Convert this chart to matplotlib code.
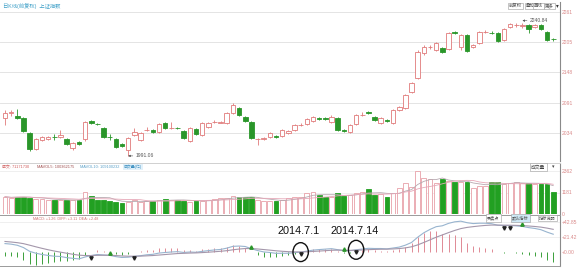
import numpy as np
import pandas as pd
import matplotlib
matplotlib.use("Agg")
import matplotlib.pyplot as plt
from matplotlib.patches import Rectangle, Ellipse

plt.rcParams['font.family'] = ['Liberation Sans', 'Noto Sans CJK SC', 'DejaVu Sans']

# ── DATA (上证指数 daily, spring-summer 2014) ──
opens = [2062.1, 2071.5, 2065.9, 2062.1, 2034.0, 2004.0, 2020.9, 2022.7, 2026.5, 2026.5,
         2022.7, 2005.9, 2017.1, 2022.7, 2056.5, 2050.9, 2043.4, 2026.5, 2022.7, 2013.4,
         2002.1, 2030.2, 2020.9, 2039.6, 2039.6, 2035.9, 2052.8, 2043.4, 2044.3, 2037.8,
         2019.0, 2041.5, 2030.2, 2045.3, 2054.6, 2053.7, 2052.8, 2071.5, 2080.9, 2064.0,
         2054.6, 2022.7, 2023.6, 2026.5, 2028.4, 2028.4, 2034.0, 2039.6, 2049.0, 2050.9,
         2056.5, 2062.1, 2062.1, 2054.6, 2062.1, 2039.6, 2035.9, 2050.9, 2067.8, 2072.5,
         2064.0, 2052.8, 2058.4, 2052.8, 2077.1, 2080.9, 2110.9, 2137.2, 2184.1, 2195.3,
         2189.7, 2193.5, 2191.6, 2223.5, 2195.3, 2217.8, 2195.3, 2202.8, 2223.5, 2222.5,
         2221.6, 2208.5, 2232.9, 2236.0, 2234.0, 2236.0, 2233.0, 2236.5, 2223.5, 2210.3]
highs = [2077.1, 2077.1, 2079.0, 2064.0, 2035.9, 2024.6, 2028.4, 2028.4, 2032.1, 2039.6,
         2024.6, 2017.1, 2019.0, 2056.5, 2058.4, 2052.8, 2045.3, 2032.1, 2024.6, 2015.2,
         2026.5, 2043.4, 2035.9, 2045.3, 2041.5, 2052.8, 2054.6, 2054.6, 2045.3, 2039.6,
         2045.3, 2043.4, 2054.6, 2054.6, 2058.4, 2056.5, 2073.4, 2090.3, 2082.8, 2065.9,
         2056.5, 2024.6, 2026.5, 2035.9, 2030.2, 2041.5, 2039.6, 2050.9, 2052.8, 2062.1,
         2065.9, 2064.0, 2064.0, 2067.8, 2064.0, 2041.5, 2050.9, 2069.6, 2073.4, 2075.3,
         2065.9, 2064.0, 2060.3, 2079.0, 2084.6, 2107.2, 2129.7, 2189.7, 2199.1, 2199.1,
         2204.7, 2195.3, 2223.5, 2225.4, 2219.7, 2219.7, 2201.0, 2225.4, 2227.3, 2225.4,
         2223.5, 2231.0, 2239.6, 2239.5, 2240.84, 2238.0, 2238.5, 2238.0, 2225.4, 2212.0]
lows = [2049.0, 2065.9, 2060.3, 2035.9, 2000.2, 2002.1, 2019.0, 2020.9, 2020.9, 2024.6,
        2011.5, 2002.1, 2011.5, 2019.0, 2050.9, 2049.0, 2024.6, 2020.9, 2005.9, 2007.7,
        1991.06, 2028.4, 2019.0, 2037.8, 2034.0, 2034.0, 2041.5, 2041.5, 2041.5, 2022.7,
        2017.1, 2030.2, 2028.4, 2043.4, 2052.8, 2052.8, 2050.9, 2069.6, 2065.9, 2054.6,
        2022.7, 2011.5, 2020.9, 2024.6, 2024.6, 2026.5, 2032.1, 2037.8, 2047.1, 2049.0,
        2054.6, 2058.4, 2059.3, 2052.8, 2037.8, 2035.9, 2034.0, 2049.0, 2065.9, 2069.6,
        2056.5, 2050.9, 2054.6, 2050.9, 2075.3, 2079.0, 2109.1, 2135.3, 2180.3, 2191.6,
        2187.8, 2184.1, 2189.7, 2219.7, 2189.7, 2186.0, 2193.5, 2201.0, 2221.6, 2219.7,
        2204.7, 2206.6, 2231.0, 2233.0, 2231.5, 2221.6, 2231.0, 2228.0, 2206.6, 2207.0]
closes = [2071.5, 2072.5, 2062.1, 2037.8, 2004.0, 2022.7, 2026.5, 2026.5, 2025.6, 2030.2,
          2013.4, 2015.2, 2013.4, 2054.6, 2052.8, 2050.0, 2026.5, 2025.6, 2007.7, 2009.6,
          2024.6, 2035.9, 2034.0, 2040.5, 2035.9, 2050.9, 2043.4, 2044.3, 2043.4, 2024.6,
          2043.4, 2032.1, 2052.8, 2052.8, 2055.5, 2054.6, 2071.5, 2086.5, 2067.8, 2056.5,
          2024.6, 2023.6, 2024.6, 2034.0, 2026.5, 2039.6, 2037.8, 2049.0, 2049.9, 2060.3,
          2064.0, 2060.3, 2061.2, 2064.0, 2039.6, 2037.8, 2049.0, 2067.8, 2068.7, 2071.5,
          2058.4, 2062.1, 2056.5, 2077.1, 2082.8, 2105.3, 2127.8, 2186.0, 2195.3, 2196.2,
          2202.8, 2186.0, 2221.6, 2221.6, 2217.8, 2187.8, 2199.1, 2223.5, 2224.4, 2221.6,
          2206.6, 2229.1, 2238.5, 2236.8, 2237.0, 2230.0, 2236.0, 2230.0, 2208.5, 2209.5]
volumes = [950, 878, 950, 950, 895, 824, 824, 769, 769, 769,
           769, 769, 769, 1208, 1005, 769, 769, 714, 659, 604,
           675, 769, 675, 714, 714, 769, 824, 769, 769, 730,
           675, 714, 741, 769, 824, 862, 895, 1005, 917, 917,
           950, 769, 714, 714, 714, 769, 895, 922, 950, 1136,
           1224, 1043, 950, 950, 1136, 1005, 1043, 1136, 1208, 1373,
           1043, 1098, 950, 1136, 1427, 1685, 1499, 2361, 1993, 1922,
           1685, 1922, 1812, 1773, 1740, 1773, 1427, 1554, 1554, 1773,
           1740, 1631, 1685, 1773, 1685, 1685, 1631, 1631, 1631, 1224]

price_ticks = [2034, 2091, 2148, 2205, 2261]
vol_ticks = [0, 1181, 2362]
macd_ticks = [0, 21.42, 42.85]
macd_tick_labels = ["+0.00", "+21.42", "+42.85"]

# MACD state at the left edge of the panel
DIFF_START, DEA_START = 12.0, 15.0

LOW_IDX, HIGH_IDX = 20, 84          # candles carrying the 1991.06 / 2240.84 marks
CIRCLE_IDX = [48, 57]               # 2014.7.1 and 2014.7.14
CIRCLE_TEXT = ["2014.7.1", "2014.7.14"]
SELL_IDX = [14, 21, 48, 57, 81, 82]
BUY_IDX = [17, 40, 55, 84]

RED = "#e07a7a"
GREEN = "#2a962a"
AXIS_TXT = "#d98a8a"

o = np.array(opens); h = np.array(highs); l = np.array(lows); c = np.array(closes)
v = np.array(volumes)
n = len(c)
idx = np.arange(n)
up = c >= o

# ── MACD (12, 26, 9) ────────────────────────────────────────
a12, a26, a9 = 2 / 13, 2 / 27, 2 / 10
ema12 = np.empty(n); ema26 = np.empty(n); dea = np.empty(n)
ema12[0] = c[0]; ema26[0] = c[0] - DIFF_START; dea[0] = DEA_START
for i in range(1, n):
    ema12[i] = ema12[i - 1] + a12 * (c[i] - ema12[i - 1])
    ema26[i] = ema26[i - 1] + a26 * (c[i] - ema26[i - 1])
diff = ema12 - ema26
for i in range(1, n):
    dea[i] = dea[i - 1] + a9 * (diff[i] - dea[i - 1])
macd = 2 * (diff - dea)

vol = pd.Series(v, dtype=float)
mavol5 = vol.rolling(5, min_periods=1).mean()
mavol10 = vol.rolling(10, min_periods=1).mean()

# ── FIGURE ─────────────────────────────────────────────────
W, H = 577, 270
fig = plt.figure(figsize=(W / 100, H / 100), dpi=100)
fig.patch.set_facecolor("white")

def box(x0, y0, x1, y1):
    return [x0 / W, 1 - y1 / H, (x1 - x0) / W, (y1 - y0) / H]

def ftext(x, y, s, **kw):
    kw.setdefault("va", "center")
    return fig.text(x / W, 1 - y / H, s, **kw)

ax_k = fig.add_axes(box(0, 2, 560, 161))
ax_v = fig.add_axes(box(0, 163, 560, 214))
ax_m = fig.add_axes(box(0, 215, 560, 266))

XLIM = (-0.81, 90.1)
for ax in (ax_k, ax_v, ax_m):
    ax.set_xlim(*XLIM)
    ax.set_facecolor("none")
    ax.set_xticks([])
    ax.yaxis.tick_right()
    ax.tick_params(axis="y", length=0, pad=1.5, labelsize=3.6, labelcolor=AXIS_TXT)
    for s in ("left", "top", "bottom"):
        ax.spines[s].set_visible(False)
    ax.spines["right"].set_color("#8a8a8a")
    ax.spines["right"].set_linewidth(0.8)

# ── candles ──
bw = 0.74
for i in idx:
    col = RED if up[i] else GREEN
    lo, hi = min(o[i], c[i]), max(o[i], c[i])
    ax_k.vlines(i, l[i], h[i], color=col, linewidth=0.6, zorder=2)
    hgt = max(hi - lo, 0.9)
    ax_k.add_patch(Rectangle((i - bw / 2, lo), bw, hgt,
                             facecolor="white" if up[i] else GREEN,
                             edgecolor=col, linewidth=0.6, zorder=3))

ax_k.set_ylim(1981.5, 2279.8)
ax_k.set_yticks(price_ticks)
ax_k.set_yticklabels([str(t) for t in price_ticks])
for t in price_ticks:
    ax_k.axhline(t, color="#e4e4e4", linewidth=0.7, zorder=0)

ax_k.annotate("1991.06", xy=(LOW_IDX, l[LOW_IDX]), xytext=(LOW_IDX + 1.2, l[LOW_IDX]),
              fontsize=3.6, color="#555555", va="center",
              arrowprops=dict(arrowstyle="-|>", color="#555555", lw=0.4,
                              mutation_scale=3, shrinkA=0, shrinkB=0))
ax_k.annotate("2240.84", xy=(HIGH_IDX, h[HIGH_IDX] + 4), xytext=(HIGH_IDX + 1.2, h[HIGH_IDX] + 4),
              fontsize=3.6, color="#555555", va="center",
              arrowprops=dict(arrowstyle="-|>", color="#555555", lw=0.4,
                              mutation_scale=3, shrinkA=0, shrinkB=0))

# ── volume ──
ax_v.bar(idx, v, width=0.78, color=np.where(up, "white", "#22a022"),
         edgecolor=np.where(up, "#e8a0a8", "#22a022"), linewidth=0.6, zorder=2)
ax_v.plot(idx, mavol5, color="#b7a9b0", linewidth=0.6, zorder=3)
ax_v.plot(idx, mavol10, color="#e6a8b8", linewidth=0.6, zorder=3)
ax_v.set_ylim(0, 2362 * 51 / 43)
ax_v.set_yticks(vol_ticks)
ax_v.set_yticklabels([str(t) for t in vol_ticks])
ax_v.spines["top"].set_visible(True)
ax_v.spines["top"].set_color("#d0d0d0")
ax_v.spines["top"].set_linewidth(0.7)
for t in vol_ticks[1:]:
    ax_v.axhline(t, color="#ececec", linewidth=0.6, zorder=0)

# ── MACD ──
ax_m.vlines(idx, 0, macd, colors=np.where(macd >= 0, "#e08a95", "#3aa03a"),
            linewidth=0.7, zorder=2)
ax_m.plot(idx, diff, color="#98b4cf", linewidth=0.8, zorder=3)
ax_m.plot(idx, dea, color="#a497ab", linewidth=0.8, zorder=3)
ax_m.set_ylim(-20, 52.8)
ax_m.set_yticks(macd_ticks)
ax_m.set_yticklabels(macd_tick_labels)
for t in macd_ticks[1:]:
    ax_m.axhline(t, color="#ececec", linewidth=0.6, zorder=0)
for s in ("top", "bottom"):
    ax_m.spines[s].set_visible(True)
    ax_m.spines[s].set_color("#9a9a9a")
    ax_m.spines[s].set_linewidth(0.7)

ax_m.plot(SELL_IDX, diff[SELL_IDX] - 3, linestyle="none", marker="v",
          markersize=2.4, color="#222222", zorder=4)
ax_m.plot(BUY_IDX, diff[BUY_IDX] + 3, linestyle="none", marker="^",
          markersize=2.4, color="#2a962a", zorder=4)

for k, txt in zip(CIRCLE_IDX, CIRCLE_TEXT):
    ax_m.add_patch(Ellipse((k, diff[k]), width=2.5, height=27, fill=False,
                           edgecolor="#111111", linewidth=1.0, zorder=5))
    ax_m.text(k - 0.3, 30, txt, fontsize=7.8, color="#111111",
              ha="center", va="center", family=["Liberation Sans", "DejaVu Sans"], zorder=6)

# ── header texts / widgets ──
ftext(3, 6, "日K线(前复权)  上证指数", fontsize=3.8, color="#3fa0c8")
for x, s in [(509, "前复权"), (526, "叠加"), (534, "画线"), (545, "更多")]:
    ftext(x, 6, s, fontsize=3.2, color="#555555",
          bbox=dict(boxstyle="square,pad=0.25", facecolor="white", edgecolor="#9a9a9a", linewidth=0.4))
ftext(556, 6, "▾", fontsize=4, color="#333333", family=["DejaVu Sans"])

ftext(2, 167, "成交: 71171730", fontsize=2.8, color="#d05a5a")
ftext(37, 167, "MAVOL5: 100362175", fontsize=2.8, color="#a05050")
ftext(80, 167, "MAVOL10: 109100232", fontsize=2.8, color="#5aa0c8")
ftext(124, 167, "成交量(亿)", fontsize=2.8, color="#3c8fc0",
      bbox=dict(boxstyle="square,pad=0.3", facecolor="#e2f1fa", edgecolor="none"))
ftext(531, 167, "成交量", fontsize=3.4, color="#444444",
      bbox=dict(boxstyle="square,pad=0.3", facecolor="white", edgecolor="#9a9a9a", linewidth=0.4))
ftext(552, 167, "▾", fontsize=3.6, color="#444444", family=["DejaVu Sans"])

ftext(33, 219, "MACD: +1.26  DIFF: +3.11  DEA: +2.48", fontsize=2.7, color="#d07070")
for x, s, fc in [(487, "买卖点", "white"), (512, "默认指标", "#cfe9f6"), (539, "指标说明", "white")]:
    ftext(x, 218, s, fontsize=3.0, color="#555555",
          bbox=dict(boxstyle="square,pad=0.3", facecolor=fc, edgecolor="#9a9a9a", linewidth=0.4))

fig.savefig("out.png", dpi=100)
